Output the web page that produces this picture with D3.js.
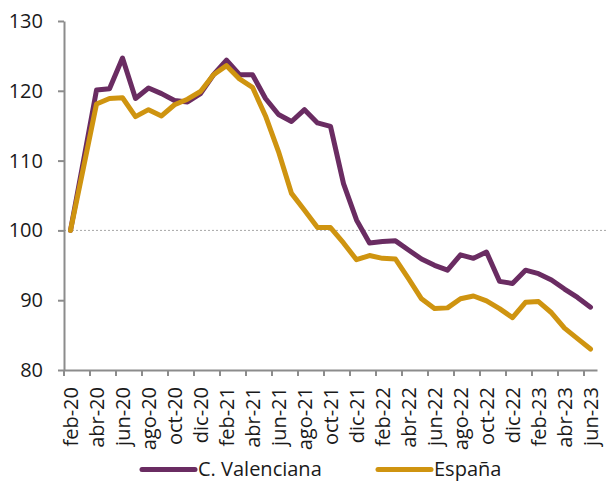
<!DOCTYPE html>
<html>
<head>
<meta charset="utf-8">
<script src="https://cdn.jsdelivr.net/npm/d3@7"></script>
<style>
  body { margin: 0; background: #fff; }
  svg { display: block; font-family: "Open Sans", sans-serif; }
</style>
</head>
<body>
<svg width="606" height="481"></svg>
<script>
// months feb-20 .. jun-23
const months = [
  'feb-20','mar-20','abr-20','may-20','jun-20','jul-20','ago-20','sep-20','oct-20','nov-20','dic-20',
  'ene-21','feb-21','mar-21','abr-21','may-21','jun-21','jul-21','ago-21','sep-21','oct-21','nov-21','dic-21',
  'ene-22','feb-22','mar-22','abr-22','may-22','jun-22','jul-22','ago-22','sep-22','oct-22','nov-22','dic-22',
  'ene-23','feb-23','mar-23','abr-23','may-23','jun-23'
];

const valenciana = [
  100, 110.0, 120.1, 120.3, 124.7, 118.9, 120.4, 119.6, 118.6, 118.4, 119.6,
  122.3, 124.4, 122.3, 122.3, 118.9, 116.6, 115.6, 117.3, 115.4, 114.9, 106.7, 101.5,
  98.2, 98.4, 98.5, 97.2, 95.9, 95.0, 94.3, 96.5, 96.0, 96.9, 92.7, 92.4,
  94.3, 93.8, 92.9, 91.6, 90.4, 89.0
];

const espana = [
  100, 109.0, 118.1, 118.9, 119.0, 116.3, 117.3, 116.4, 118.0, 118.8, 119.9,
  122.3, 123.6, 121.7, 120.5, 116.4, 111.3, 105.3, 102.9, 100.4, 100.4, 98.2, 95.8,
  96.4, 96.0, 95.9, 93.1, 90.2, 88.8, 88.9, 90.2, 90.6, 89.9, 88.8, 87.5,
  89.7, 89.8, 88.2, 86.0, 84.5, 83.0
];

const yTicks = [80, 90, 100, 110, 120, 130];

const series = [
  {name: 'C. Valenciana', color: '#6a2c62', values: valenciana},
  {name: 'España', color: '#cf9410', values: espana}
];

const svg = d3.select('svg');
const axisColor = '#8c8c8c';

const x = d3.scaleBand().domain(months).range([64, 597]).padding(0);
const y = d3.scaleLinear().domain([80, 130]).range([370, 21]);

// reference line at 100
svg.append('line')
  .attr('x1', 64).attr('x2', 606)
  .attr('y1', y(100)).attr('y2', y(100))
  .attr('stroke', '#a6a6a6')
  .attr('stroke-width', 1)
  .attr('stroke-dasharray', '2,2');

// y axis
const yAxis = svg.append('g')
  .attr('transform', 'translate(64,0)')
  .call(d3.axisLeft(y).tickValues(yTicks).tickSize(6).tickSizeOuter(0).tickPadding(15));
yAxis.select('.domain').attr('stroke', axisColor).attr('stroke-width', 2);
yAxis.selectAll('.tick line').attr('stroke', axisColor).attr('stroke-width', 2);
yAxis.selectAll('.tick text')
  .style('font-size', '20px')
  .style('font-family', '"Open Sans", sans-serif')
  .attr('fill', '#1a1a1a');

// x axis, label every second month, ticks between categories
const evenMonths = months.filter((d, i) => i % 2 === 0);
const xAxis = svg.append('g')
  .attr('transform', 'translate(0,370)')
  .call(d3.axisBottom(x).tickValues(evenMonths).tickSize(6).tickSizeOuter(0));
xAxis.select('.domain').attr('stroke', axisColor).attr('stroke-width', 2);
xAxis.selectAll('.tick line')
  .attr('stroke', axisColor).attr('stroke-width', 2)
  .attr('transform', `translate(${-x.bandwidth() / 2},0)`);
xAxis.selectAll('.tick text')
  .style('font-size', '20px')
  .style('font-family', '"Open Sans", sans-serif')
  .attr('fill', '#1a1a1a')
  .attr('transform', 'rotate(-90)')
  .attr('text-anchor', 'end')
  .attr('x', -17)
  .attr('y', 0)
  .attr('dy', '0.35em');

// lines
const line = d3.line()
  .x((d, i) => x(months[i]) + x.bandwidth() / 2)
  .y(d => y(d));

svg.selectAll('.series')
  .data(series)
  .enter().append('path')
  .attr('class', 'series')
  .attr('fill', 'none')
  .attr('stroke', d => d.color)
  .attr('stroke-width', 5)
  .attr('stroke-linejoin', 'round')
  .attr('stroke-linecap', 'round')
  .attr('d', d => line(d.values));

// legend
const legendPos = [140, 376];
const legend = svg.append('g').attr('class', 'legend');
const items = legend.selectAll('.legend-item')
  .data(series)
  .enter().append('g')
  .attr('class', 'legend-item')
  .attr('transform', (d, i) => `translate(${legendPos[i]}, 469.5)`);

items.append('line')
  .attr('x1', 2).attr('x2', 55)
  .attr('stroke', d => d.color)
  .attr('stroke-width', 5)
  .attr('stroke-linecap', 'round');

items.append('text')
  .attr('x', 58)
  .attr('y', 6.5)
  .text(d => d.name)
  .style('font-size', '20px')
  .attr('fill', '#1a1a1a');
</script>
</body>
</html>
